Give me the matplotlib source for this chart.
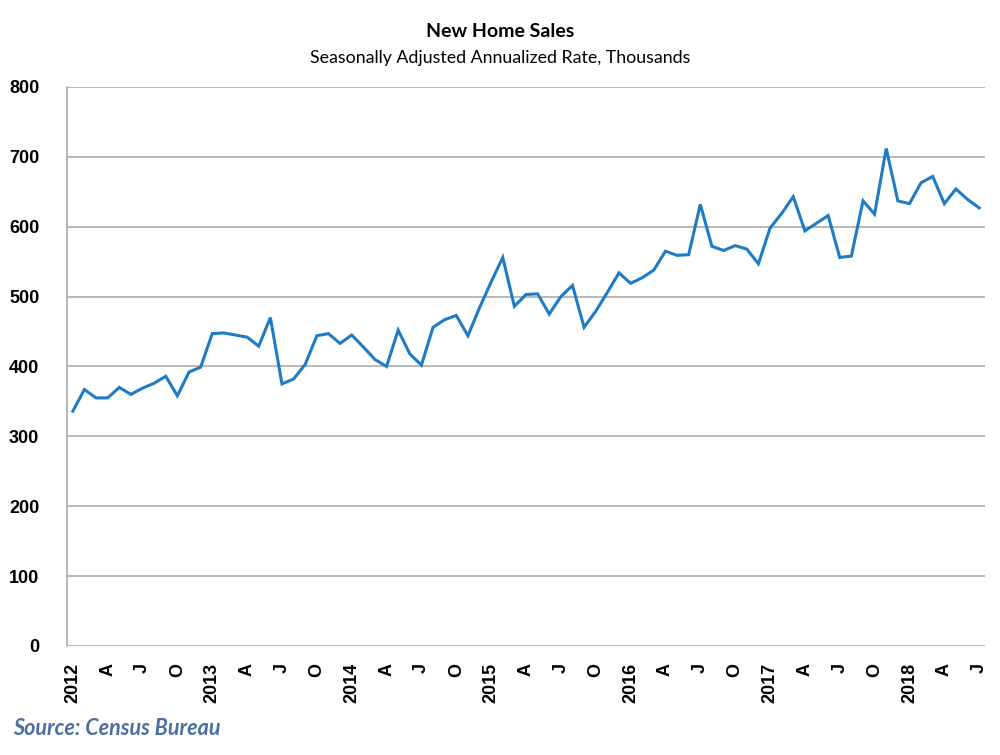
import numpy as np
import matplotlib.pyplot as plt
import matplotlib

matplotlib.rcParams['font.family'] = ['Liberation Sans', 'DejaVu Sans']

# monthly, Jan 2012 .. Jul 2018, thousands (SAAR)
sales = [336, 367, 355, 355, 370, 360, 369, 376, 386, 358, 392, 399,
         447, 448, 445, 442, 429, 470, 375, 382, 403, 444, 447, 433,
         445, 428, 410, 400, 452, 418, 402, 456, 467, 473, 444, 484,
         521, 556, 486, 503, 504, 475, 500, 516, 456, 479, 506, 534,
         519, 527, 538, 565, 559, 560, 632, 572, 566, 573, 568, 547,
         598, 619, 643, 594, 605, 616, 556, 558, 637, 618, 712, 637,
         633, 663, 672, 633, 654, 639, 627]
years = ['2012', '2013', '2014', '2015', '2016', '2017', '2018']
quarter_letters = ['A', 'J', 'O']

n = len(sales)
x = np.arange(n)
tick_pos = np.arange(0, n, 3)
tick_labels = []
for k in range(len(tick_pos)):
    if k % 4 == 0:
        tick_labels.append(years[k // 4])
    else:
        tick_labels.append(quarter_letters[k % 4 - 1])

fig = plt.figure(figsize=(10, 7.55), dpi=100)
ax = fig.add_axes([0.067, 0.1444, 0.918, 0.7404])

ax.plot(x, sales, color='#1f7bc4', linewidth=2.2, solid_joinstyle='miter')

ax.set_xlim(-0.5, n - 0.5)
ax.set_ylim(0, 800)
ax.set_yticks(range(0, 801, 100))
ax.set_xticks(tick_pos)
ax.set_xticklabels(tick_labels, rotation=90, fontsize=13, fontweight='bold')
for lab in ax.get_yticklabels():
    lab.set_fontsize(13)
    lab.set_fontweight('bold')
ax.tick_params(axis='both', length=0)
ax.tick_params(axis='y', pad=20)
ax.tick_params(axis='x', pad=12)

ax.grid(axis='y', color='#a6a6a6', linewidth=1.1)
ax.set_axisbelow(True)
for s in ['top', 'right', 'bottom']:
    ax.spines[s].set_visible(False)
ax.spines['left'].set_color('#a6a6a6')
ax.spines['left'].set_linewidth(1.1)

fig.text(0.5, 0.958, 'New Home Sales', ha='center', va='center',
         fontsize=14, fontweight='bold', family=['Lato', 'DejaVu Sans'])
fig.text(0.5, 0.923, 'Seasonally Adjusted Annualized Rate, Thousands',
         ha='center', va='center', fontsize=12.8, family=['Lato', 'DejaVu Sans'])
fig.text(0.013, 0.035, 'Source: Census Bureau', ha='left', va='center',
         fontsize=15.5, fontweight='bold', style='italic', color='#4a6fa0',
         family=['Lato', 'DejaVu Sans'])

plt.savefig('out.png', dpi=100)
